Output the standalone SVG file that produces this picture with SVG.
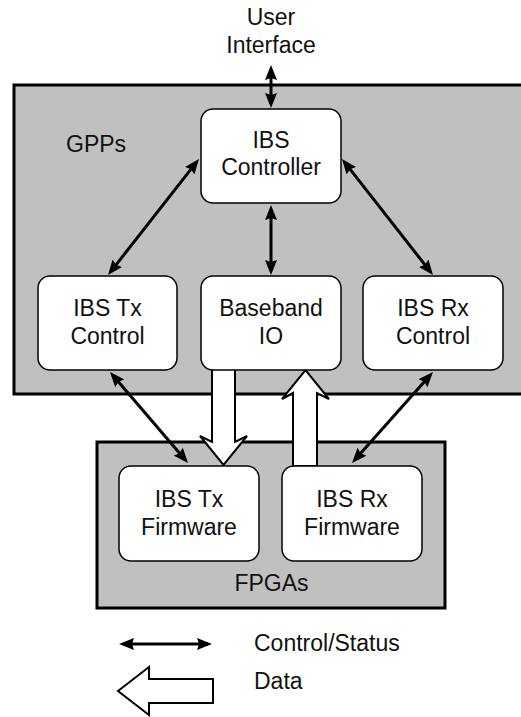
<svg xmlns="http://www.w3.org/2000/svg" width="521" height="717" viewBox="0 0 521 717">
<style>
text{font-family:"Liberation Sans",Arial,sans-serif;font-size:23px;fill:#111}
.c{text-anchor:middle}
.cont{fill:#c0c0c0;stroke:#000;stroke-width:3}
.node{fill:#fff;stroke:#000;stroke-width:1.5}
.ctl{stroke:#000;stroke-width:3;fill:none;marker-start:url(#ah);marker-end:url(#ah)}
.data{fill:#fff;stroke:#000;stroke-width:2;stroke-linejoin:miter}
</style>
<defs>
<marker id="ah" viewBox="0 0 15 12" refX="11" refY="6" markerWidth="15" markerHeight="12" markerUnits="userSpaceOnUse" orient="auto-start-reverse">
<path d="M0,0 L15,6 L0,12 L2,6 z" fill="#000"/>
</marker>
</defs>
<rect id="gpps" class="cont" x="14" y="85" width="512" height="309"/>
<rect id="fpgas" class="cont" x="97" y="442" width="348" height="166"/>
<text x="66" y="152">GPPs</text>
<text class="c" x="271.5" y="591">FPGAs</text>
<g id="data-arrows">
<path class="data" d="M212,370 L212,442 L200,436 L223.5,465 L247,436 L235,442 L235,370"/>
<path class="data" d="M293,466 L293,393 L282,399 L305.5,370 L329,399 L317,393 L317,466 Z"/>
</g>
<g id="user-interface"><text class="c" x="271" y="25">User</text><text class="c" x="271" y="53">Interface</text></g>
<g id="ibs-controller"><rect class="node" x="201" y="109" width="140" height="94" rx="12"/><text class="c" x="271" y="148">IBS</text><text class="c" x="271" y="175">Controller</text></g>
<g id="ibs-tx-control"><rect class="node" x="38" y="276" width="139" height="94" rx="12"/><text class="c" x="107.5" y="316">IBS Tx</text><text class="c" x="107.5" y="344">Control</text></g>
<g id="baseband-io"><rect class="node" x="201" y="276" width="140" height="94" rx="12"/><text class="c" x="271" y="316">Baseband</text><text class="c" x="271" y="344">IO</text></g>
<g id="ibs-rx-control"><rect class="node" x="363" y="276" width="140" height="94" rx="12"/><text class="c" x="433" y="316">IBS Rx</text><text class="c" x="433" y="344">Control</text></g>
<g id="ibs-tx-firmware"><rect class="node" x="119" y="466" width="140" height="95" rx="12"/><text class="c" x="189" y="507">IBS Tx</text><text class="c" x="189" y="535">Firmware</text></g>
<g id="ibs-rx-firmware"><rect class="node" x="282" y="466" width="140" height="95" rx="12"/><text class="c" x="352" y="507">IBS Rx</text><text class="c" x="352" y="535">Firmware</text></g>
<g id="connectors">
<line class="ctl" x1="271" y1="69" x2="271" y2="104"/>
<line class="ctl" x1="196.5" y1="162.1" x2="110.5" y2="271.9"/>
<line class="ctl" x1="344.5" y1="162.1" x2="430.5" y2="271.9"/>
<line class="ctl" x1="271" y1="209" x2="271" y2="271"/>
<line class="ctl" x1="112.6" y1="375" x2="185.4" y2="460"/>
<line class="ctl" x1="430.3" y1="375" x2="354.7" y2="460"/>
</g>
<g id="legend">
<line class="ctl" x1="123" y1="644" x2="208" y2="644"/>
<text x="254" y="651">Control/Status</text>
<path class="data" d="M118,691 L149,667 L149,679 L213,679 L213,703 L149,703 L149,715 Z"/>
<text x="254" y="689">Data</text>
</g>
</svg>
